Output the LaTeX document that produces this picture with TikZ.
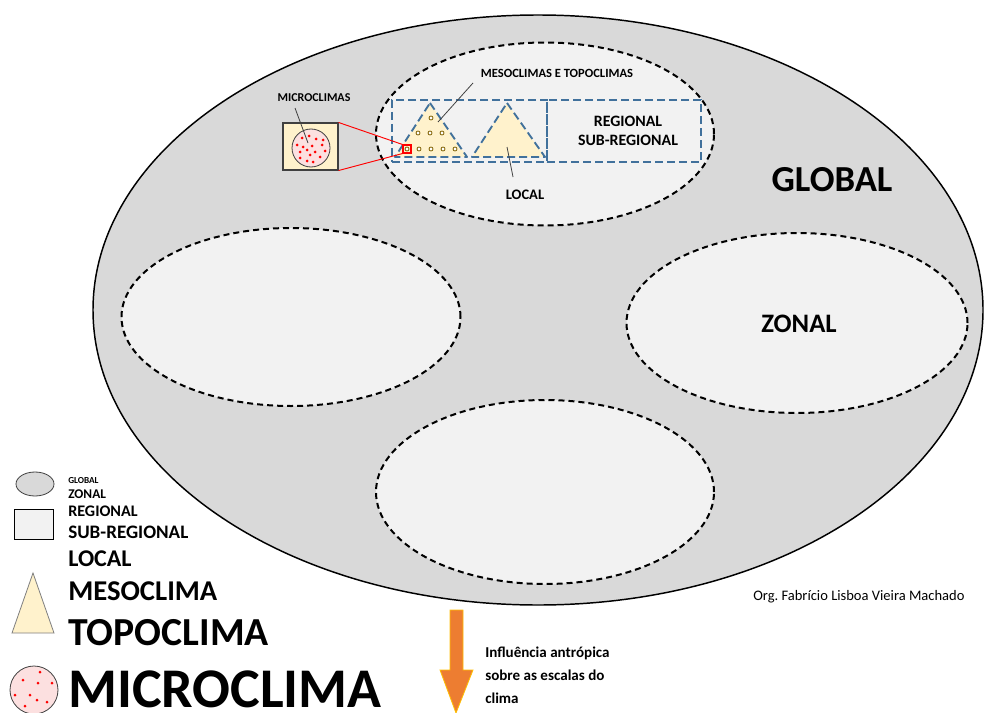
\documentclass[tikz,border=0pt]{standalone}
\usepackage{fontspec}
\setmainfont{Carlito}
\usetikzlibrary{shapes.geometric}
\definecolor{bggray}{HTML}{D9D9D9}
\definecolor{lightgray}{HTML}{F2F2F2}
\definecolor{cream}{HTML}{FFF2CC}
\definecolor{steel}{HTML}{41719C}
\definecolor{pinkfill}{HTML}{FCE0E0}
\definecolor{dotred}{HTML}{FF0000}
\definecolor{orangearrow}{HTML}{ED7D31}
\definecolor{yellowedge}{HTML}{FFC000}
\definecolor{brownring}{HTML}{7F6000}
\definecolor{darkline}{HTML}{404040}
\newcommand\fsz[1]{\fontsize{#1}{#1}\selectfont}
\tikzset{
  bigell/.style={ellipse, draw=black, line width=1.1pt, fill=bggray, inner sep=0pt,
    minimum width=890*0.75pt, minimum height=590*0.75pt},
  dashell/.style={ellipse, draw=black, line width=1.5pt, dash pattern=on 4.5pt off 3pt,
    fill=lightgray, inner sep=0pt},
  bluerect/.style={draw=steel, line width=1.4pt, dash pattern=on 6pt off 3pt, inner sep=0pt},
  tri/.style={fill=cream, draw=steel, line width=1.4pt, dash pattern=on 6pt off 3pt, line join=round},
  ring/.style={circle, draw=brownring, fill=white, line width=0.6pt, inner sep=0pt, minimum size=4*0.75pt},
  rdot/.style={circle, fill=dotred, inner sep=0pt, minimum size=3*0.75pt},
  lbl/.style={inner sep=0pt, font=\bfseries},
  lleg/.style={inner sep=0pt, anchor=west, font=\bfseries},
  pointer/.style={draw=darkline, line width=0.6pt},
  redline/.style={draw=dotred, line width=0.7pt}
}
\begin{document}
\frenchspacing
\begin{tikzpicture}[x=0.75pt,y=-0.75pt]
\useasboundingbox (0,0) rectangle (984,713);
\fill[white] (0,0) rectangle (984,713);

% main ellipses
\node[bigell] (global) at (538,310) {};
\node[dashell, minimum width=338*0.75pt, minimum height=183*0.75pt] (topell) at (545,134) {};
\node[dashell, minimum width=339*0.75pt, minimum height=178*0.75pt] (leftell) at (291,317) {};
\node[dashell, minimum width=341*0.75pt, minimum height=180*0.75pt] (zonalell) at (797,323) {};
\node[dashell, minimum width=338*0.75pt, minimum height=184*0.75pt] (botell) at (545,492) {};

\node[lbl, font=\bfseries\fsz{27.5}] (globaltxt) at (832,180) {GLOBAL};
\node[lbl, font=\bfseries\fsz{20}] (zonaltxt) at (799,324) {ZONAL};

% triangles
\draw[tri] (430,103) -- (467,157) -- (395,157) -- cycle;
\draw[tri] (507,103) -- (545,157) -- (472,157) -- cycle;
% rectangles
\node[bluerect, minimum width=154*0.75pt, minimum height=62*0.75pt] (regrect) at (624,131) {};
\node[bluerect, minimum width=155*0.75pt, minimum height=62*0.75pt] (localrect) at (469.5,131) {};

% small rings
\foreach \p/\n in {{(431,118)}/r1, {(418,133)}/r2, {(430,133)}/r3, {(442,133)}/r4,
  {(407,149)}/r5, {(419,149)}/r6, {(431,149)}/r7, {(443,149)}/r8, {(455,149)}/r9}
  \node[ring] (\n) at \p {};

% red square and zoom lines
\node[draw=dotred, line width=0.8pt, minimum size=8*0.75pt, inner sep=0pt] (redsq) at (407,149) {};
\node[draw=darkline, fill=cream, line width=0.8pt, minimum width=55*0.75pt, minimum height=47*0.75pt, inner sep=0pt] (micbox) at (310.5,146.5) {};
\draw[redline] (micbox.north east) -- (redsq.north west);
\draw[redline] (micbox.south east) -- (redsq.south west);
\node[circle, draw=darkline, fill=pinkfill, line width=0.6pt, minimum size=38*0.75pt, inner sep=0pt] (miccirc) at (311,148) {};
\foreach \dx/\dy [count=\i] in {-9/-10,-2/-12,5/-9,12/-8,-14/-3,-8/-1,1/-2,11/-3,-11/4,-4/2,-1/7,4/4,9/9,14/3,-11/10,-4/13,2/14}
  \node[rdot] (md\i) at (311+\dx,148+\dy) {};

% labels in top ellipse
\node[lbl, font=\bfseries\fsz{9}] (miclbl) at (314,98) {MICROCLIMAS};
\coordinate (micA) at (295,108);
\coordinate (micB) at (308,143);
\draw[pointer] (micA) -- (micB);

\node[lbl, font=\bfseries\fsz{9.4}] (mesolbl) at (557,73) {MESOCLIMAS E TOPOCLIMAS};
\coordinate (mesoA) at (473,83);
\coordinate (mesoB) at (438,122);
\draw[pointer] (mesoA) -- (mesoB);

\node[lbl, font=\bfseries\fsz{11.9}, align=center] (reglbl) at (628,131) {REGIONAL\\[2pt]SUB-REGIONAL};

\node[lbl, font=\bfseries\fsz{10.9}] (locallbl) at (525,195) {LOCAL};
\coordinate (locA) at (513,177);
\coordinate (locB) at (507,147);
\draw[pointer] (locA) -- (locB);

% legend
\node[ellipse, draw=darkline, fill=bggray, line width=0.6pt, minimum width=38*0.75pt, minimum height=24*0.75pt, inner sep=0pt] (legell) at (35,484) {};
\node[lleg, font=\bfseries\fsz{6.9}] (lgglobal) at (68,481) {GLOBAL};
\node[lleg, font=\bfseries\fsz{10}] (lgzonal) at (68,494) {ZONAL};
\node[draw=black, fill=lightgray, line width=0.6pt, minimum width=39*0.75pt, minimum height=30*0.75pt, inner sep=0pt] (legrect) at (33.5,524) {};
\node[lleg, font=\bfseries\fsz{12.1}] (lgreg) at (68,511) {REGIONAL};
\node[lleg, font=\bfseries\fsz{14.3}] (lgsub) at (68,532) {SUB-REGIONAL};
\node[lleg, font=\bfseries\fsz{18}] (lglocal) at (68,559) {LOCAL};
\draw[fill=cream, draw=gray, line width=0.6pt] (33,573) -- (54,633) -- (12,633) -- cycle;
\node[lleg, font=\bfseries\fsz{21.5}] (lgmeso) at (68,591) {MESOCLIMA};
\node[lleg, font=\bfseries\fsz{29.8}] (lgtopo) at (68,633) {TOPOCLIMA};
\node[circle, draw=darkline, fill=pinkfill, line width=0.6pt, minimum size=48*0.75pt, inner sep=0pt] (legcirc) at (34,690) {};
\foreach \x/\y [count=\i] in {40/672,23/680,38/683,52/683,15/695,30/695,37/700,47/702,25/706}
  \node[rdot] (ld\i) at (\x,\y) {};
\node[lleg, font=\bfseries\fsz{42}] (lgmicro) at (68,689) {MICROCLIMA};

% arrow
\draw[fill=orangearrow, draw=yellowedge, line width=0.6pt, line join=miter]
  (450,610) -- (463,610) -- (463,670) -- (473,670) -- (456,713) -- (440,670) -- (450,670) -- cycle;
\node[inner sep=0pt, anchor=north west, align=left, font=\bfseries\fontsize{11.3}{17}\selectfont] (influ) at (485,647)
  {Influência antrópica\\sobre as escalas do\\clima};

\node[inner sep=0pt, anchor=west, font=\fsz{10.9}] (credit) at (753,597) {Org. Fabrício Lisboa Vieira Machado};
\end{tikzpicture}
\end{document}
